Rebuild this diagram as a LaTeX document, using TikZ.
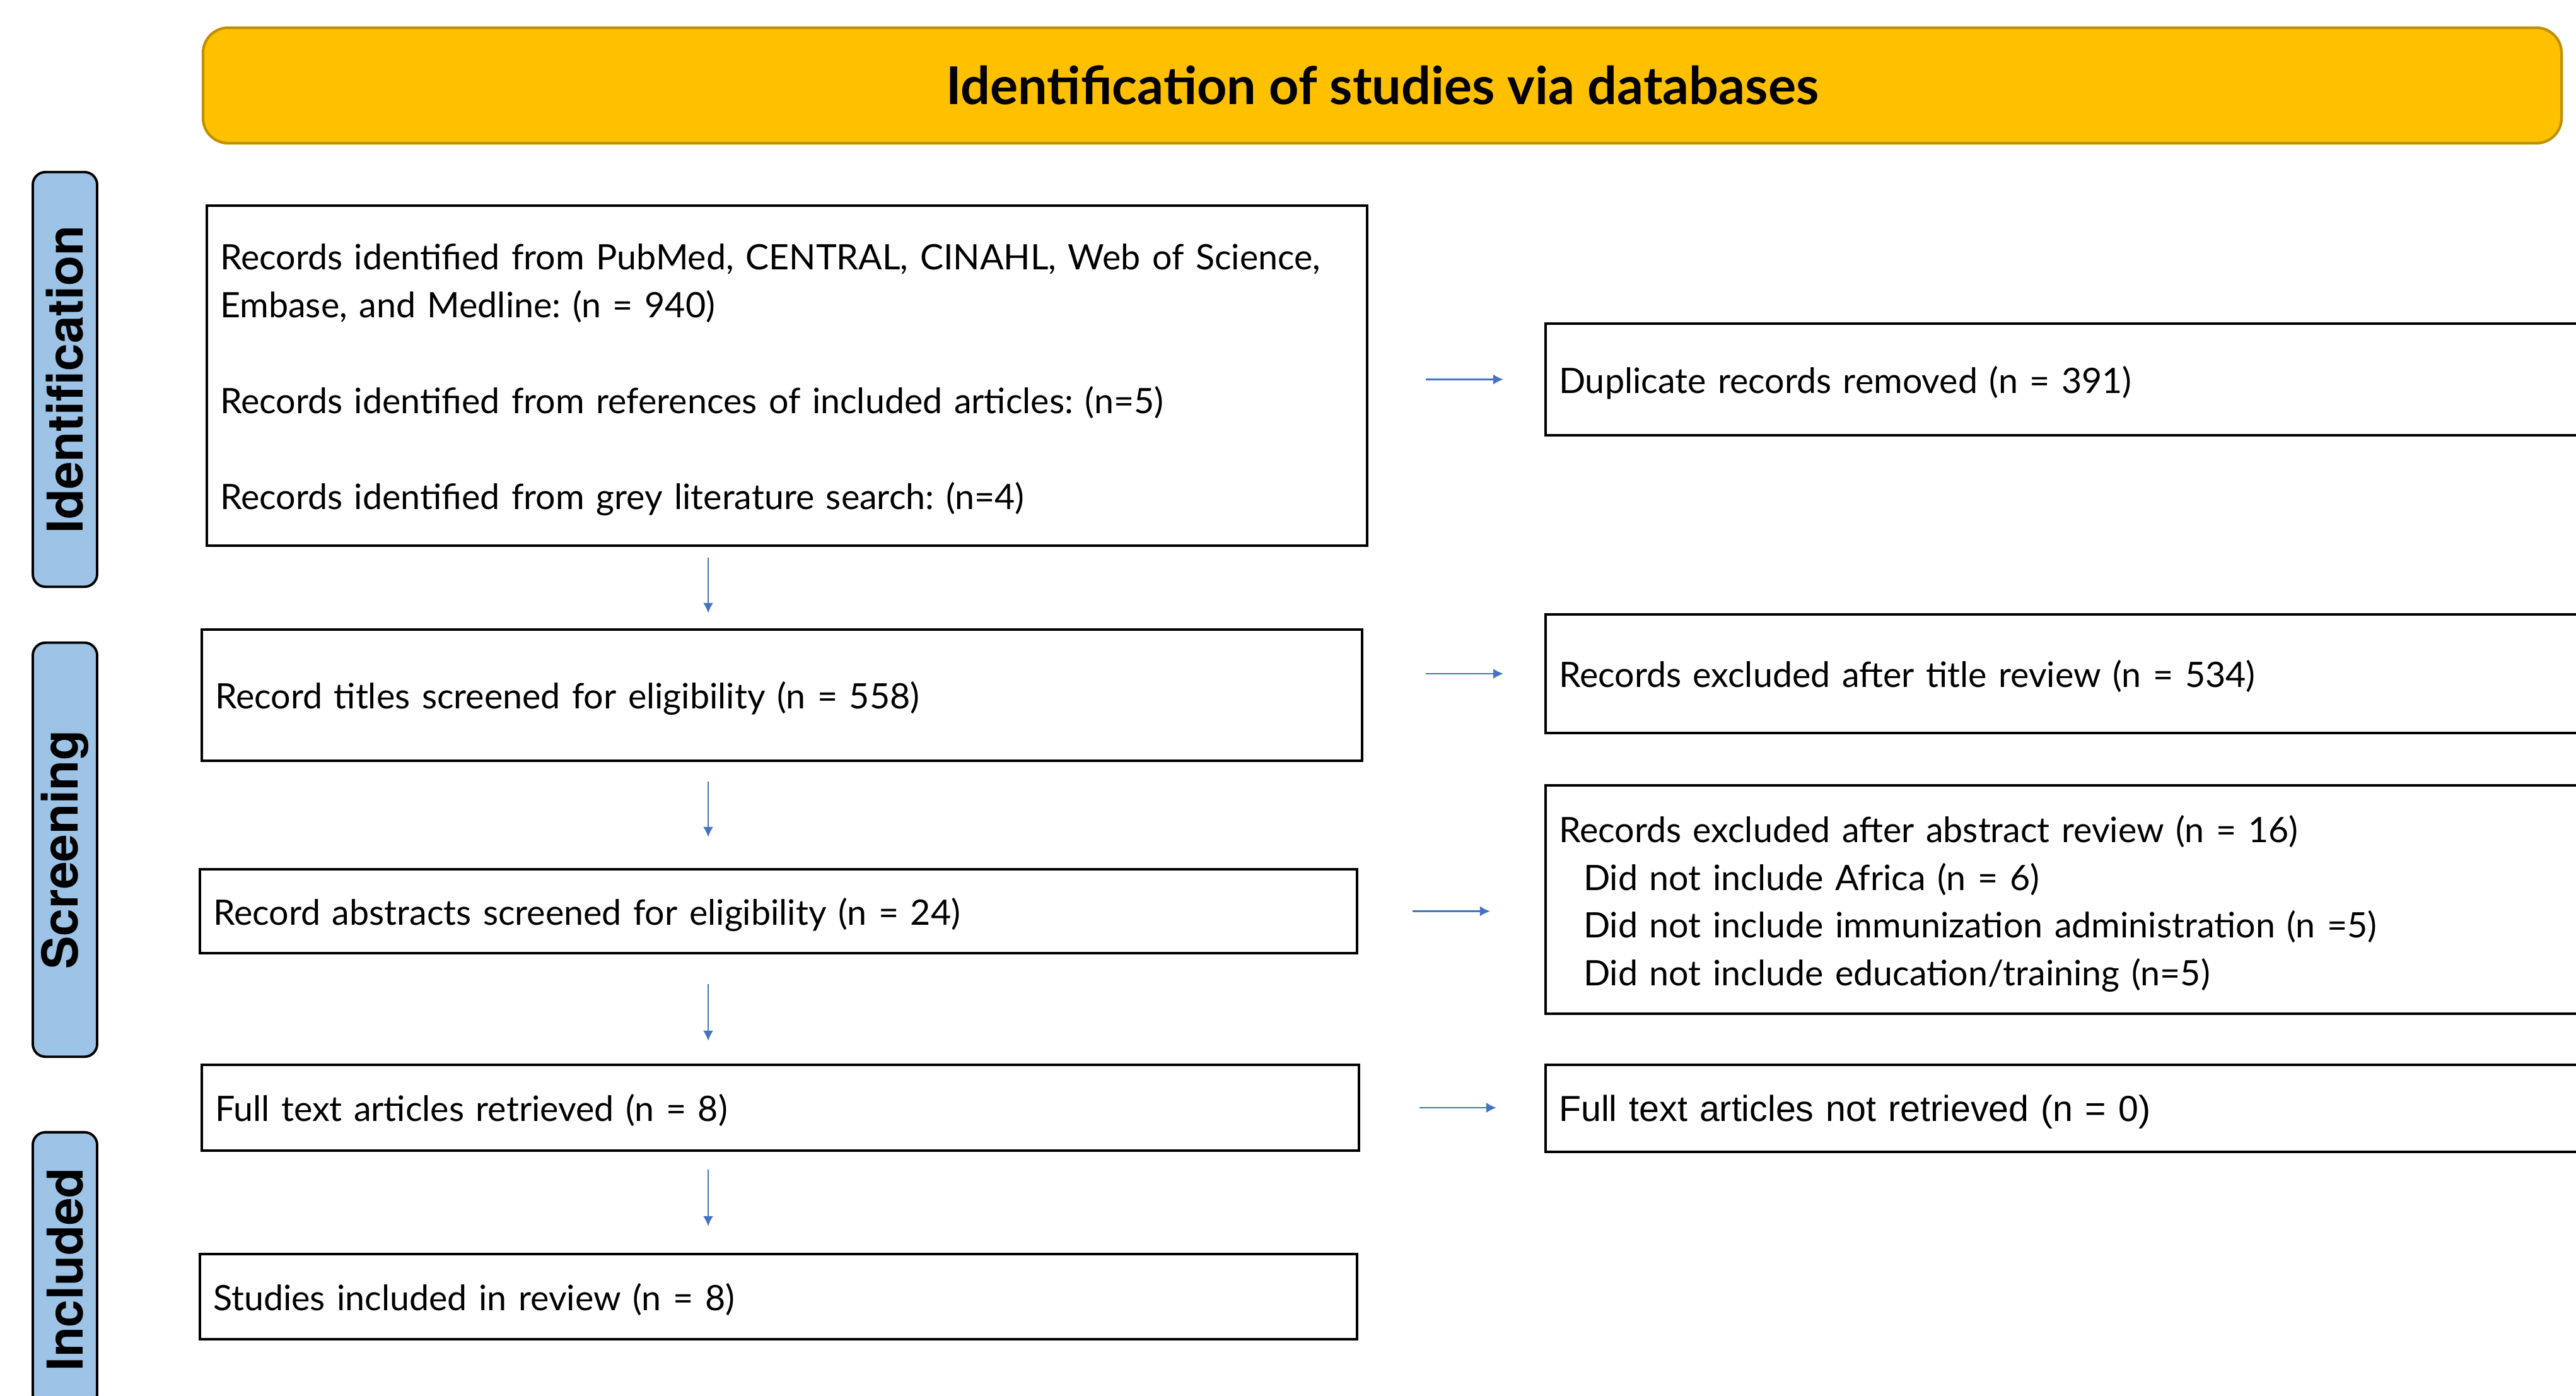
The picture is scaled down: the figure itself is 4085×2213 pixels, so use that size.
\documentclass[tikz,border=0pt]{standalone}
\usepackage{fontspec}
\setmainfont{Lato}
\newfontfamily\phasefont{TeX Gyre Heros}
\newfontfamily\arialfont{Liberation Sans}
\usepackage{xcolor}
\usepackage{tikz}
\usetikzlibrary{calc}
\usetikzlibrary{arrows.meta}
\frenchspacing
\definecolor{bannerfill}{HTML}{FFC000}
\definecolor{bannerdraw}{HTML}{BF9000}
\definecolor{phasefill}{HTML}{9DC3E6}
\definecolor{flowblue}{HTML}{4472C4}
\tikzset{box/.style={draw=black, line width=1.2pt, rectangle, anchor=west, inner xsep=0.21cm, inner ysep=0pt, align=left, font=\fontsize{15.8}{21.6}\selectfont, execute at end node={\par\vspace*{-3.7pt}}}}
\tikzset{phase/.style={draw=black, line width=1.1pt, fill=phasefill, rounded corners=0.2cm, rotate=90, inner sep=0pt, minimum height=1.02cm, font=\phasefont\bfseries\fontsize{22.3}{26}\selectfont}}
\tikzset{banner/.style={draw=bannerdraw, line width=1.2pt, fill=bannerfill, rounded corners=0.4cm, minimum width=37.38cm, minimum height=1.83cm, font=\bfseries\fontsize{23.5}{28}\selectfont}}
\tikzset{flow/.style={draw=flowblue, line width=0.6pt, -{Latex[length=1.6mm,width=1.6mm]}}}

\begin{document}
\begin{tikzpicture}[x=0.01cm, y=-0.01cm]
		\useasboundingbox (0,0) rectangle (4085,2213);
		\clip (0,0) rectangle (4085,2213);
		
		\node[banner] (head) at (2192,135.5) {Identification of studies via databases};
		
		\node[phase, minimum width=6.57cm] (ident) at (103,601.5) {Identification};
		\node[phase, minimum width=6.56cm] (screen) at (103,1347) {Screening};
		\node[phase, minimum width=4.35cm] (incl) at (103,2012.5) {Included};
		
		\node[box, minimum width=18.39cm, minimum height=5.39cm, text width=17.97cm] (recid) at (326,595.5) {Records identified from PubMed, CENTRAL, CINAHL, Web of Science,\\ Embase, and Medline: (n = 940)\\[21.6pt] Records identified from references of included articles: (n=5)\\[21.6pt] Records identified from grey literature search: (n=4)};
		\node[box, minimum width=18.39cm, minimum height=2.08cm, text width=17.97cm] (titles) at (318,1102) {Record titles screened for eligibility (n = 558)};
		\node[box, minimum width=18.34cm, minimum height=1.33cm, text width=17.92cm] (abstr) at (315,1444.5) {Record abstracts screened for eligibility (n = 24)};
		\node[box, minimum width=18.34cm, minimum height=1.36cm, text width=17.92cm] (fulltext) at (318,1756) {Full text articles retrieved (n = 8)};
		\node[box, minimum width=18.34cm, minimum height=1.35cm, text width=17.92cm] (studies) at (315,2055.5) {Studies included in review (n = 8)};
		
		\node[box, minimum width=17.51cm, minimum height=1.77cm, text width=17.09cm] (dup) at (2449,601.5) {Duplicate records removed (n = 391)};
		\node[box, minimum width=17.51cm, minimum height=1.88cm, text width=17.09cm] (titleexcl) at (2449,1068) {Records excluded after title review (n = 534)};
		\node[box, minimum width=17.51cm, minimum height=3.62cm, text width=17.09cm] (absexcl) at (2449,1426) {Records excluded after abstract review (n = 16)\\ \hspace*{3.9mm}Did not include Africa (n = 6)\\ \hspace*{3.9mm}Did not include immunization administration (n =5)\\ \hspace*{3.9mm}Did not include education/training (n=5)};
		\node[box, minimum width=17.51cm, minimum height=1.38cm, text width=17.09cm, font=\arialfont\fontsize{16.3}{20}\selectfont] (notret) at (2449,1757) {Full text articles not retrieved (n = 0)};
		
		\coordinate (arrx) at (1123,0);
		\draw[flow, shorten <=1.7mm, shorten >=2.4mm] (recid.south -| arrx) -- (titles.north -| arrx);
		\draw[flow, shorten <=3.1mm, shorten >=4.9mm] (titles.south -| arrx) -- (abstr.north -| arrx);
		\draw[flow, shorten <=4.7mm, shorten >=3.6mm] (abstr.south -| arrx) -- (fulltext.north -| arrx);
		\draw[flow, shorten <=2.8mm, shorten >=4.2mm] (fulltext.south -| arrx) -- (studies.north -| arrx);
		
		\draw[flow, shorten <=9.1mm, shorten >=6.5mm] (dup.west -| recid.east) -- (dup.west);
		\draw[flow, shorten <=9.9mm, shorten >=6.5mm] (titleexcl.west -| titles.east) -- (titleexcl.west);
		\draw[flow, shorten <=8.6mm, shorten >=8.6mm] (abstr.east) -- (abstr.east -| absexcl.west);
		\draw[flow, shorten <=9.4mm, shorten >=7.6mm] (fulltext.east) -- (fulltext.east -| notret.west);
	\end{tikzpicture}
\end{document}
